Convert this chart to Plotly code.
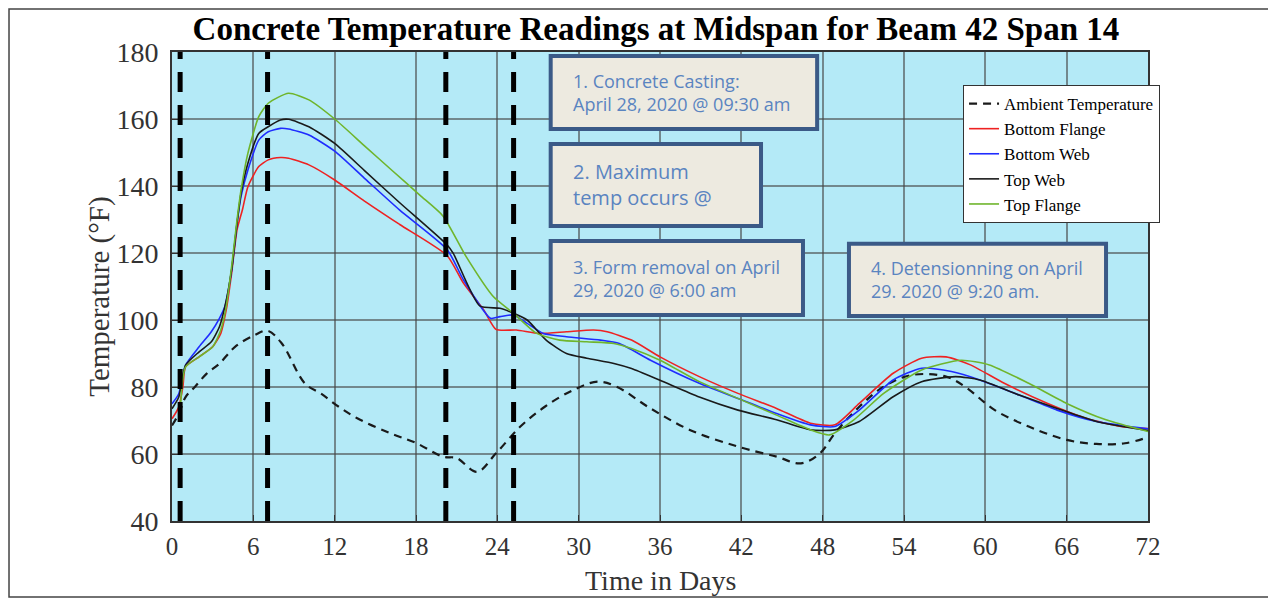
import plotly.graph_objects as go

# ---------------- data ----------------
ambient_days = [0, 0.5, 1.0, 1.7, 2.56, 3.5, 4.65, 6.1, 7.05, 8.1, 9.8, 11.0, 12.3, 13.7,
                16.1, 18.0, 20.0, 21.0, 22.5, 23.9, 25.7, 27.5, 29.6, 31.4, 32.8, 35.3,
                38.2, 41.75, 44.6, 46.4, 47.8, 48.9, 50.7, 52.5, 54.6, 57.1, 58.5, 60.7,
                63.2, 66.0, 68.2, 70.3, 72.0]
ambient_temp = [68.5, 72, 77, 80.1, 84, 87, 92, 95.5, 96.8, 93, 81.1, 78, 74.1, 70.6,
                66.2, 63.3, 59.2, 58.8, 54.7, 60.2, 68.2, 74.1, 79.1, 81.6, 80.1, 73.6,
                67.2, 62.2, 59.2, 57.2, 60.2, 66.2, 74.1, 80.1, 83.6, 83.1, 80.1, 73.1,
                68.2, 64.2, 63.0, 63.2, 65.0]

bf_days = [0, 0.5, 0.8, 1.0, 2.0, 3.0, 3.6, 4.0, 4.4, 4.8, 5.2, 5.6, 6.4, 7.1, 8.0, 8.6,
           10.1, 12.0, 14.2, 16.8, 20.3, 21.5, 23.0, 23.9, 25.4, 27.1, 29.1, 31.1, 32.1,
           33.9, 36.0, 38.9, 41.75, 44.6, 47.1, 48.9, 50.7, 53.2, 55.3, 57.1, 58.9, 61.4,
           64.6, 67.5, 70.0, 72.0]
bf_temp = [70.5, 74, 80, 86, 89, 92, 96, 103, 114, 127, 133, 139.8, 145.8, 147.8, 148.5,
           148.3, 146.3, 141.8, 135.5, 128.5, 119.2, 111, 103, 97.2, 97, 96, 96.5, 97,
           96.5, 94, 89, 83.1, 78.1, 73.6, 69.2, 68.7, 75.1, 84.1, 88.6, 89, 86.6, 81.1,
           75.1, 70.6, 68.2, 67.6]

bw_days = [0, 0.5, 1.0, 2.0, 2.9, 3.5, 3.9, 4.4, 4.8, 5.1, 5.6, 6.4, 7.1, 8.0, 8.6, 10.1,
           12.0, 14.2, 16.8, 20.3, 21.5, 23.5, 24.2, 25.2, 26.2, 27.4, 29.1, 31.6, 33.0,
           35.3, 38.9, 41.75, 44.6, 47.1, 48.9, 50.7, 53.2, 55.3, 57.5, 59.6, 62.5, 65.3,
           68.2, 72.0]
bw_temp = [75, 78, 86.5, 92, 96.5, 100.5, 104, 115, 129, 137, 144.8, 153.7, 156.2, 157.2,
           157.0, 155.2, 150.4, 142.3, 132.8, 121, 112, 100.5, 101, 101.5, 99, 96, 95, 94,
           93, 88, 81.1, 76.6, 72.1, 68.7, 68.2, 73.1, 82.1, 85.6, 84.6, 82.1, 77.6, 73.1,
           69.7, 67.5]

tw_days = [0, 0.5, 1.0, 2.0, 2.9, 3.5, 3.9, 4.4, 4.8, 5.1, 5.6, 6.4, 7.1, 8.0, 8.6, 10.1,
           12.0, 14.2, 16.8, 20.3, 20.75, 22.7, 24.2, 25.2, 26.2, 27.6, 29.1, 30.6, 32.6,
           33.9, 36.0, 38.9, 41.75, 44.6, 47.1, 48.9, 50.7, 53.2, 55.3, 57.8, 59.6, 62.5,
           65.3, 68.2, 72.0]
tw_temp = [73.5, 77, 86.5, 90.5, 93.5, 98, 104, 115, 129, 138, 146.8, 155.7, 157.7, 159.7,
           159.9, 157.7, 152.7, 144.6, 135.0, 122.4, 119.9, 104.2, 103.5, 102, 100, 94, 90,
           88.6, 87, 85.5, 82, 77, 73.1, 70.2, 67.2, 67.2, 69.7, 77.1, 81.6, 83.1, 82.1,
           77.6, 73.6, 69.7, 67.0]

tf_days = [0.6, 1.0, 2.0, 3.0, 3.6, 4.0, 4.4, 4.8, 5.1, 5.6, 6.4, 7.1, 8.6, 10.1, 12.0,
           14.2, 16.3, 18.3, 20.0, 21.7, 23.7, 25.2, 26.9, 28.6, 30.6, 32.6, 33.9, 36.0,
           38.9, 41.75, 44.6, 47.1, 48.5, 50.3, 52.5, 55.3, 58.2, 60.3, 63.2, 66.0, 68.9,
           72.0]
tf_temp = [72.5, 86, 89, 92, 97, 104, 116, 130, 139, 149.8, 160.7, 164.7, 167.7, 165.7,
           160, 152.0, 144.4, 137.2, 131.0, 118.9, 107, 102, 96, 94, 93.5, 93, 91.5, 88, 81.6,
           76.6, 71.6, 67.2, 65.7, 70.2, 78.1, 85.1, 88, 86.6, 81.1, 75.1, 70.2, 66.7]

event_days = [0.6, 7.05, 20.2, 25.2]

x_ticks = list(range(0, 73, 6))
y_ticks = list(range(40, 181, 20))

series_names = ["Ambient Temperature", "Bottom Flange", "Bottom Web", "Top Web", "Top Flange"]

notes = [
    ("1. Concrete Casting:<br>April 28, 2020 @ 09:30 am", 18),
    ("2. Maximum<br>temp occurs @", 20),
    ("3. Form removal on April<br>29, 2020 @ 6:00 am", 18),
    ("4. Detensionning on April<br>29. 2020 @ 9:20 am.", 18),
]

# ---------------- figure ----------------
serif = "Liberation Serif, Times New Roman, serif"
fig = go.Figure()

fig.add_trace(go.Scatter(x=ambient_days, y=ambient_temp, mode="lines", name=series_names[0],
                         line=dict(color="#1a1a1a", width=2.2, dash="8px,6px", shape="spline")))
fig.add_trace(go.Scatter(x=bf_days, y=bf_temp, mode="lines", name=series_names[1],
                         line=dict(color="#ee2222", width=1.6, shape="spline", smoothing=0.6)))
fig.add_trace(go.Scatter(x=bw_days, y=bw_temp, mode="lines", name=series_names[2],
                         line=dict(color="#1f2cff", width=1.6, shape="spline", smoothing=0.6)))
fig.add_trace(go.Scatter(x=tw_days, y=tw_temp, mode="lines", name=series_names[3],
                         line=dict(color="#1a1a1a", width=1.6, shape="spline", smoothing=0.6)))
fig.add_trace(go.Scatter(x=tf_days, y=tf_temp, mode="lines", name=series_names[4],
                         line=dict(color="#6fb52c", width=1.6, shape="spline", smoothing=0.6)))

shapes = []
for d in event_days:
    shapes.append(dict(type="line", xref="x", yref="paper", x0=d, x1=d, y0=0, y1=1,
                       line=dict(color="black", width=5, dash="20px,13px"), layer="above"))

# annotation boxes (paper coordinates)
boxes = [
    (0.388, 0.661, 0.836, 0.9915),
    (0.388, 0.6035, 0.629, 0.804),
    (0.388, 0.6465, 0.439, 0.597),
    (0.6936, 0.957, 0.437, 0.591),
]
annotations = []
for (x0, x1, y0, y1), (txt, fs) in zip(boxes, notes):
    shapes.append(dict(type="rect", xref="paper", yref="paper", x0=x0, x1=x1, y0=y0, y1=y1,
                       fillcolor="#edeae0", line=dict(color="#3b5a87", width=4), layer="above"))
    annotations.append(dict(xref="paper", yref="paper", x=x0 + 0.021, y=(y0 + y1) / 2,
                            xanchor="left", yanchor="middle", align="left", showarrow=False,
                            text=txt, font=dict(family="Open Sans, Lato, sans-serif", size=fs,
                                                color="#5a84c0")))

# axis titles
annotations.append(dict(xref="paper", yref="paper", x=-0.0738, y=0.478, textangle=-90,
                        xanchor="center", yanchor="middle", showarrow=False,
                        text="Temperature (°F)", font=dict(family=serif, size=29, color="#333333")))
annotations.append(dict(xref="paper", yref="paper", x=0.5, y=-0.127,
                        xanchor="center", yanchor="middle", showarrow=False,
                        text="Time in Days", font=dict(family=serif, size=28, color="#333333")))

# outer frame
shapes.append(dict(type="rect", xref="paper", yref="paper", x0=-0.167, x1=1.126,
                   y0=-0.162, y1=1.0917, line=dict(color="#444444", width=1.5), layer="below"))

fig.update_layout(
    width=1268, height=592,
    margin=dict(l=164, r=128, t=44, b=79),
    paper_bgcolor="white",
    plot_bgcolor="#b4eaf7",
    title=dict(text="<b>Concrete Temperature Readings at Midspan for Beam 42 Span 14</b>",
               x=0.511, xanchor="center", y=0.966, yanchor="middle",
               font=dict(family=serif, size=33, color="black")),
    font=dict(family=serif, color="#333333"),
    shapes=shapes,
    annotations=annotations,
    showlegend=True,
    legend=dict(x=0.8105, y=0.9296, xanchor="left", yanchor="top", bgcolor="white",
                bordercolor="#333333", borderwidth=1, font=dict(family=serif, size=17, color="black"),
                tracegroupgap=0, itemwidth=30),
)

fig.update_xaxes(range=[0, 72], tickvals=x_ticks, ticktext=[str(t) for t in x_ticks],
                 showgrid=True, gridcolor="rgba(70,70,70,0.6)", gridwidth=1.5,
                 showline=True, linecolor="#333333", linewidth=2, mirror=True,
                 ticks="inside", ticklen=6, tickcolor="#333333", zeroline=False,
                 ticklabelstandoff=2,
                 tickfont=dict(family=serif, size=25, color="#333333"))
fig.update_yaxes(range=[40, 180], tickvals=y_ticks, ticktext=[str(t) for t in y_ticks],
                 showgrid=True, gridcolor="rgba(70,70,70,0.6)", gridwidth=1.5,
                 showline=True, linecolor="#333333", linewidth=2, mirror=True,
                 ticks="inside", ticklen=6, tickcolor="#333333", zeroline=False,
                 ticklabelstandoff=6,
                 tickfont=dict(family=serif, size=28, color="#333333"))

fig.write_html("out.html")
